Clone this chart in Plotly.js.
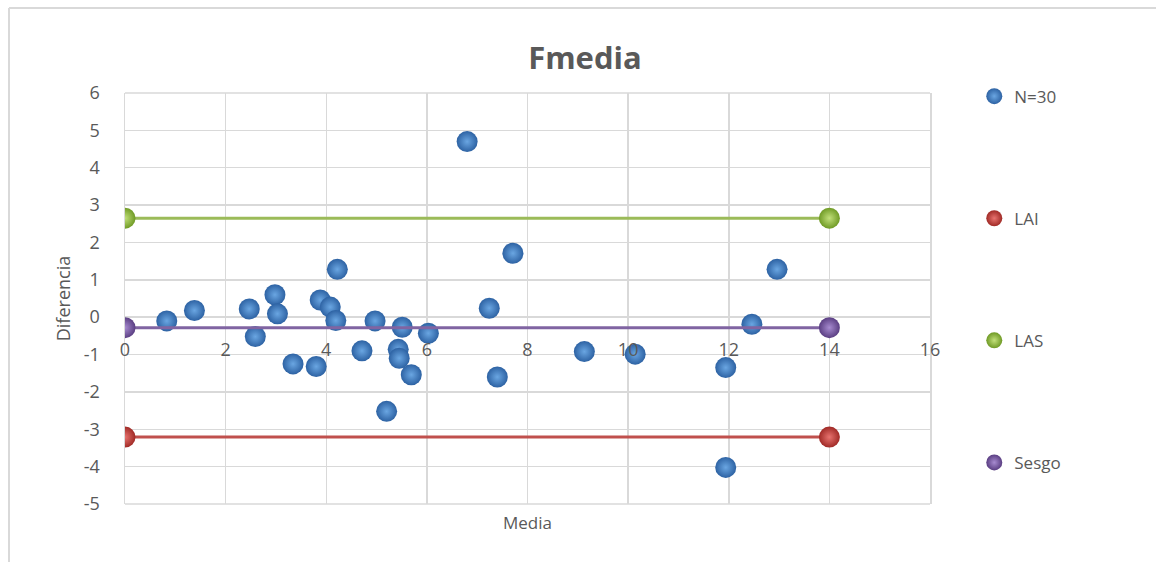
<!DOCTYPE html>
<html>
<head>
<meta charset="utf-8">
<script src="https://cdn.plot.ly/plotly-3.0.1.min.js"></script>
<style>
  html, body { margin: 0; padding: 0; background: #ffffff; }
  #chart { width: 1156px; height: 562px; }
</style>
</head>
<body>
<div id="chart"></div>
<script>
// Bland-Altman data: mean of both measurements vs. their difference
const media = [0.83, 1.38, 2.47, 2.59, 2.98, 3.03, 3.34, 3.80, 3.88, 4.08,
               4.22, 4.19, 4.71, 4.97, 5.20, 5.43, 5.45, 5.51, 5.69, 6.03,
               6.80, 7.24, 7.40, 7.71, 9.13, 10.14, 11.94, 11.94, 12.46, 12.96];
const diferencia = [-0.10, 0.18, 0.22, -0.52, 0.60, 0.09, -1.25, -1.32, 0.46, 0.27,
                    1.28, -0.09, -0.90, -0.10, -2.52, -0.86, -1.10, -0.27, -1.54, -0.43,
                    4.70, 0.24, -1.60, 1.71, -0.92, -0.99, -1.35, -4.02, -0.19, 1.28];

// Limits of agreement and bias, drawn across the measured range
const limitX = [0, 14];
const laiY = [-3.21, -3.21];
const lasY = [2.65, 2.65];
const sesgoY = [-0.28, -0.28];

const seriesNames = ['N=30', 'LAI', 'LAS', 'Sesgo'];
const xTicks = [0, 2, 4, 6, 8, 10, 12, 14, 16];
const yTicks = [-5, -4, -3, -2, -1, 0, 1, 2, 3, 4, 5, 6];

const gray = '#595959';
const grid = '#d9d9d9';

// Shaded "sphere" marker: dark rim, light centre
function ball(edge, centre) {
  return { size: 21, color: edge, gradient: { type: 'radial', color: centre }, line: { width: 0 } };
}

// Horizontal reference line (no legend entry) plus its end markers (legend entry)
function limitTraces(y, name, lineColor, edge, centre, group) {
  return [
    { x: limitX, y: y, name: name, type: 'scatter', mode: 'lines', hoverinfo: 'skip',
      line: { color: lineColor, width: 3 }, showlegend: false, legendgroup: group },
    { x: limitX, y: y, name: name, type: 'scatter', mode: 'markers',
      marker: ball(edge, centre), legendgroup: group }
  ];
}

const traces = [
  {
    x: media, y: diferencia, name: seriesNames[0], type: 'scatter', mode: 'markers',
    marker: ball('#2d62a3', '#6aa6e2'), legendgroup: 'a'
  },
  ...limitTraces(laiY, seriesNames[1], '#c0504d', '#a02a26', '#e8736f', 'b'),
  ...limitTraces(lasY, seriesNames[2], '#9bbb59', '#6f9a25', '#c2e07a', 'c'),
  ...limitTraces(sesgoY, seriesNames[3], '#8064a2', '#5a3e82', '#a78bd0', 'd')
];

const layout = {
  width: 1156, height: 562,
  margin: { l: 125, r: 226, t: 93, b: 58 },
  paper_bgcolor: '#ffffff', plot_bgcolor: '#ffffff',
  font: { family: 'Open Sans, Noto Sans, sans-serif', color: gray, size: 17 },
  title: {
    text: 'Fmedia', xref: 'container', x: 0.506, y: 0.897, yanchor: 'middle',
    font: { family: 'Open Sans, Noto Sans, sans-serif', size: 31, color: gray, weight: 700 }
  },
  xaxis: {
    range: [0, 16], tickvals: xTicks, ticktext: xTicks.map(String),
    showgrid: true, gridcolor: grid, gridwidth: 1.5, zeroline: false,
    showline: false, anchor: 'free', position: 5 / 11,
    ticks: 'outside', ticklen: 16, tickcolor: 'rgba(0,0,0,0)',
    tickfont: { size: 18, color: gray }
  },
  yaxis: {
    range: [-5, 6], tickvals: yTicks, ticktext: yTicks.map(String),
    showgrid: true, gridcolor: grid, gridwidth: 1.5, zeroline: false,
    showline: true, mirror: true, linecolor: grid, linewidth: 1.5,
    ticks: 'outside', ticklen: 20, tickcolor: 'rgba(0,0,0,0)',
    tickfont: { size: 18, color: gray },
    title: { text: 'Diferencia', font: { size: 18, color: gray }, standoff: 8 }
  },
  legend: {
    x: 1.055, xanchor: 'left', y: 1.035, yanchor: 'top',
    traceorder: 'grouped', tracegroupgap: 97, maxheight: 1,
    font: { size: 17, color: gray }, itemwidth: 30
  },
  annotations: [{
    text: 'Media', xref: 'paper', yref: 'paper', x: 0.5, y: -0.044,
    xanchor: 'center', yanchor: 'middle', showarrow: false,
    font: { size: 17, color: gray }
  }],
  shapes: [
    { type: 'line', xref: 'paper', yref: 'paper', x0: -0.1441, x1: 1.3, y0: 1.2068, y1: 1.2068,
      line: { color: grid, width: 2 } },
    { type: 'line', xref: 'paper', yref: 'paper', x0: -0.1441, x1: -0.1441, y0: 1.2068, y1: -0.2,
      line: { color: grid, width: 2 } },
    { type: 'line', xref: 'paper', yref: 'paper', x0: 0, x1: 1, y0: 1, y1: 1,
      line: { color: grid, width: 1.5 }, layer: 'below' },
    { type: 'line', xref: 'paper', yref: 'paper', x0: 0, x1: 1, y0: 0, y1: 0,
      line: { color: grid, width: 1.5 }, layer: 'below' }
  ]
};

Plotly.newPlot('chart', traces, layout, { displayModeBar: false, staticPlot: true });
</script>
</body>
</html>
